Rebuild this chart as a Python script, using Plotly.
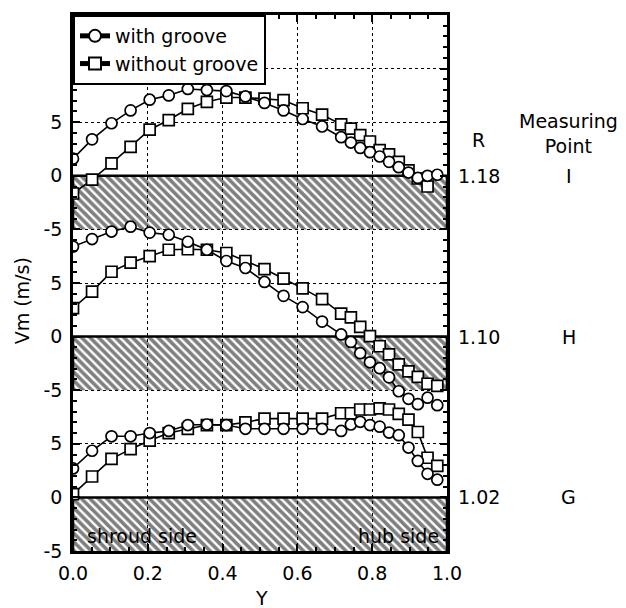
import plotly.graph_objects as go

# ---------------- data ----------------
Y_POS = [0.0, 0.051, 0.103, 0.154, 0.205, 0.256, 0.307, 0.358, 0.41, 0.461,
         0.512, 0.563, 0.614, 0.666, 0.717, 0.743, 0.768, 0.794, 0.82, 0.845,
         0.871, 0.897, 0.922, 0.948, 0.974]

I_with = [1.6, 3.4, 4.9, 6.1, 7.1, 7.5, 8.1, 8.0, 7.9, 7.4, 6.8, 6.1, 5.3, 4.6,
          3.6, 3.1, 2.6, 2.2, 1.8, 1.3, 0.8, 0.3, -0.2, 0.0, 0.1]
I_without = [-1.65, -0.35, 1.15, 2.7, 4.3, 5.2, 6.25, 6.9, 7.3, 7.3, 7.2, 7.05,
             6.3, 5.7, 4.8, 4.4, 3.8, 3.2, 2.4, 2.0, 1.3, 0.5, -0.25, -1.0]
H_with = [8.4, 9.1, 9.8, 10.25, 9.7, 9.5, 8.85, 8.1, 7.05, 6.4, 5.1, 3.8, 2.75,
          1.4, 0.2, -0.5, -1.55, -2.4, -2.95, -3.8, -5.1, -5.8, -6.3, -5.7, -6.4]
H_without = [2.65, 4.2, 6.05, 6.9, 7.5, 8.1, 8.15, 8.1, 7.8, 7.05, 6.3, 5.4, 4.5,
             3.5, 2.15, 1.8, 0.9, 0.05, -0.9, -1.65, -2.6, -3.25, -3.75, -4.4, -4.6]
G_with = [2.7, 4.35, 5.7, 5.7, 6.0, 6.2, 6.75, 6.8, 6.75, 6.4, 6.4, 6.4, 6.4,
          6.4, 6.2, 6.8, 7.05, 6.75, 6.6, 6.05, 5.8, 4.65, 3.4, 2.2, 1.65]
G_without = [0.3, 1.95, 3.6, 4.5, 5.3, 6.0, 6.4, 6.75, 6.75, 7.0, 7.35, 7.35,
             7.35, 7.35, 7.85, 7.85, 8.2, 8.2, 8.3, 8.2, 7.8, 7.25, 6.1, 3.7, 2.95]

PANELS = ["I", "H", "G"]
PANEL_R = ["1.18", "1.10", "1.02"]
PANEL_OFFSET = [30, 15, 0]
SERIES_WITH = [I_with, H_with, G_with]
SERIES_WITHOUT = [I_without, H_without, G_without]

TICK_VALS = [-5, 0, 5, 10, 15, 20, 25, 30, 35, 40]
TICK_TEXT = ["-5", "0", "5", "-5", "0", "5", "-5", "0", "5", ""]
X_TICKS = [0.0, 0.2, 0.4, 0.6, 0.8, 1.0]
X_TICK_TEXT = ["0.0", "0.2", "0.4", "0.6", "0.8", "1.0"]

FONT = "DejaVu Sans, Verdana, sans-serif"
FS = 19

fig = go.Figure()

# hatched bands (0 .. -5 in each panel)
for off in PANEL_OFFSET:
    fig.add_trace(go.Scatter(
        x=[0, 0, 1, 1], y=[off - 5, off, off, off - 5],
        mode="lines", fill="toself",
        fillcolor="rgba(0,0,0,0)",
        fillpattern=dict(shape="\\", fgcolor="black", bgcolor="rgba(0,0,0,0)",
                         size=6, solidity=0.6),
        line=dict(color="black", width=2.5),
        showlegend=False, hoverinfo="skip"))

# data series
for i, off in enumerate(PANEL_OFFSET):
    w = SERIES_WITH[i]
    wo = SERIES_WITHOUT[i]
    fig.add_trace(go.Scatter(
        x=Y_POS[:len(wo)], y=[v + off for v in wo], mode="lines+markers",
        name="without groove", legendrank=2, showlegend=(i == 0),
        line=dict(color="black", width=1.6),
        marker=dict(symbol="square", size=11, color="white",
                    line=dict(color="black", width=1.7))))
    fig.add_trace(go.Scatter(
        x=Y_POS[:len(w)], y=[v + off for v in w], mode="lines+markers",
        name="with groove", legendrank=1, showlegend=(i == 0),
        line=dict(color="black", width=1.6),
        marker=dict(symbol="circle", size=11, color="white",
                    line=dict(color="black", width=1.7))))

tf = dict(size=FS, family=FONT, color="black")
C = dict(xanchor="center", yanchor="middle", showarrow=False, font=tf)
ann = []
for name, r, off in zip(PANELS, PANEL_R, PANEL_OFFSET):
    ann.append(dict(x=1.085, y=off, xref="paper", yref="y", text=r, **C))
    ann.append(dict(x=1.325, y=off, xref="paper", yref="y", text=name, **C))
ann.append(dict(x=1.085, y=33.3, xref="paper", yref="y", text="R", **C))
ann.append(dict(x=1.325, y=33.9, xref="paper", yref="y",
                text="Measuring<br>Point", **C))
ann.append(dict(x=0.185, y=-3.6, xref="x", yref="y", text="shroud side", **C))
ann.append(dict(x=0.87, y=-3.6, xref="x", yref="y", text="hub side", **C))
ann.append(dict(x=-0.136, y=0.466, xref="paper", yref="paper", text="Vm (m/s)",
                textangle=-90, **C))
ann.append(dict(x=0.505, y=-0.087, xref="paper", yref="paper", text="Y", **C))

fig.update_layout(
    width=618, height=600,
    margin=dict(l=65, r=179, t=4, b=57),
    paper_bgcolor="white", plot_bgcolor="white",
    font=dict(family=FONT, size=FS, color="black"),
    showlegend=True,
    legend=dict(x=0, y=1, xanchor="left", yanchor="top",
                bgcolor="white", bordercolor="black", borderwidth=2,
                font=tf, tracegroupgap=0, itemsizing="constant"),
    annotations=ann,
)
fig.update_xaxes(range=[0, 1], tickvals=X_TICKS, ticktext=X_TICK_TEXT,
                 showline=True, linecolor="black", linewidth=2.5, mirror="allticks",
                 ticks="inside", ticklen=7, tickwidth=1.5, tickcolor="black",
                 showgrid=True, gridcolor="black", gridwidth=1, griddash="dot",
                 zeroline=False, tickfont=tf, ticklabelstandoff=3,
                 minor=dict(dtick=0.05, ticks="inside", ticklen=4,
                            tickcolor="black", showgrid=False))
fig.update_yaxes(range=[-5, 45], tickvals=TICK_VALS, ticktext=TICK_TEXT,
                 showline=True, linecolor="black", linewidth=2.5, mirror="allticks",
                 ticks="inside", ticklen=7, tickwidth=1.5, tickcolor="black",
                 showgrid=True, gridcolor="black", gridwidth=1, griddash="dot",
                 zeroline=False, tickfont=tf, ticklabelstandoff=4,
                 minor=dict(dtick=1, ticks="inside", ticklen=4,
                            tickcolor="black", showgrid=False))

fig.write_html("out.html")
